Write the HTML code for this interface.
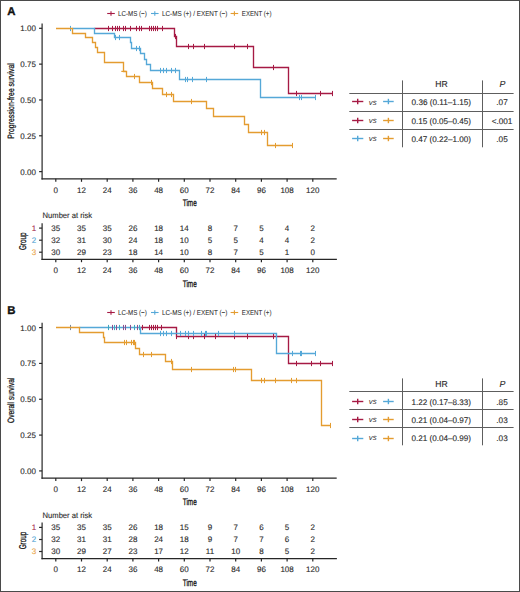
<!DOCTYPE html><html><head><meta charset="utf-8"><style>html,body{margin:0;padding:0;background:#fff;}svg{display:block;text-rendering:geometricPrecision;}</style></head><body>
<svg width="520" height="592" viewBox="0 0 520 592" font-family='"Liberation Sans", sans-serif'>
<rect x="0" y="0" width="520" height="592" fill="#fff"/>
<text x="7.20" y="15.10" font-size="11.4" fill="#111" stroke="#111" stroke-width="0.35" font-weight="bold" >A</text>
<line x1="107.20" y1="13.50" x2="114.80" y2="13.50" stroke="#A61A44" stroke-width="1.1"/>
<line x1="111.00" y1="11.30" x2="111.00" y2="15.70" stroke="#A61A44" stroke-width="1.1"/>
<text x="118.00" y="15.60" font-size="7.2" fill="#2b2b2b" stroke="#2b2b2b" stroke-width="0.05" textLength="28.80" lengthAdjust="spacingAndGlyphs" >LC-MS (−)</text>
<line x1="151.00" y1="13.50" x2="158.60" y2="13.50" stroke="#55A8D8" stroke-width="1.1"/>
<line x1="154.80" y1="11.30" x2="154.80" y2="15.70" stroke="#55A8D8" stroke-width="1.1"/>
<text x="162.00" y="15.60" font-size="7.2" fill="#2b2b2b" stroke="#2b2b2b" stroke-width="0.05" textLength="65.40" lengthAdjust="spacingAndGlyphs" >LC-MS (+) / EXENT (−)</text>
<line x1="230.60" y1="13.50" x2="238.20" y2="13.50" stroke="#E49C30" stroke-width="1.1"/>
<line x1="234.40" y1="11.30" x2="234.40" y2="15.70" stroke="#E49C30" stroke-width="1.1"/>
<text x="241.80" y="15.60" font-size="7.2" fill="#2b2b2b" stroke="#2b2b2b" stroke-width="0.05" textLength="29.70" lengthAdjust="spacingAndGlyphs" >EXENT (+)</text>
<line x1="42.10" y1="23.40" x2="42.10" y2="179.40" stroke="#262626" stroke-width="1.2"/>
<line x1="41.50" y1="178.80" x2="336.70" y2="178.80" stroke="#262626" stroke-width="1.2"/>
<line x1="39.10" y1="28.30" x2="42.10" y2="28.30" stroke="#262626" stroke-width="1.2"/>
<text x="35.90" y="31.20" font-size="8" fill="#2b2b2b" stroke="#2b2b2b" stroke-width="0.12" text-anchor="end" >1.00</text>
<line x1="39.10" y1="64.13" x2="42.10" y2="64.13" stroke="#262626" stroke-width="1.2"/>
<text x="35.90" y="67.03" font-size="8" fill="#2b2b2b" stroke="#2b2b2b" stroke-width="0.12" text-anchor="end" >0.75</text>
<line x1="39.10" y1="99.96" x2="42.10" y2="99.96" stroke="#262626" stroke-width="1.2"/>
<text x="35.90" y="102.86" font-size="8" fill="#2b2b2b" stroke="#2b2b2b" stroke-width="0.12" text-anchor="end" >0.50</text>
<line x1="39.10" y1="135.79" x2="42.10" y2="135.79" stroke="#262626" stroke-width="1.2"/>
<text x="35.90" y="138.69" font-size="8" fill="#2b2b2b" stroke="#2b2b2b" stroke-width="0.12" text-anchor="end" >0.25</text>
<line x1="39.10" y1="171.62" x2="42.10" y2="171.62" stroke="#262626" stroke-width="1.2"/>
<text x="35.90" y="174.52" font-size="8" fill="#2b2b2b" stroke="#2b2b2b" stroke-width="0.12" text-anchor="end" >0.00</text>
<line x1="55.80" y1="178.80" x2="55.80" y2="181.80" stroke="#262626" stroke-width="1.2"/>
<text x="55.80" y="192.80" font-size="8" fill="#2b2b2b" stroke="#2b2b2b" stroke-width="0.12" text-anchor="middle" >0</text>
<line x1="81.50" y1="178.80" x2="81.50" y2="181.80" stroke="#262626" stroke-width="1.2"/>
<text x="81.50" y="192.80" font-size="8" fill="#2b2b2b" stroke="#2b2b2b" stroke-width="0.12" text-anchor="middle" >12</text>
<line x1="107.20" y1="178.80" x2="107.20" y2="181.80" stroke="#262626" stroke-width="1.2"/>
<text x="107.20" y="192.80" font-size="8" fill="#2b2b2b" stroke="#2b2b2b" stroke-width="0.12" text-anchor="middle" >24</text>
<line x1="132.90" y1="178.80" x2="132.90" y2="181.80" stroke="#262626" stroke-width="1.2"/>
<text x="132.90" y="192.80" font-size="8" fill="#2b2b2b" stroke="#2b2b2b" stroke-width="0.12" text-anchor="middle" >36</text>
<line x1="158.60" y1="178.80" x2="158.60" y2="181.80" stroke="#262626" stroke-width="1.2"/>
<text x="158.60" y="192.80" font-size="8" fill="#2b2b2b" stroke="#2b2b2b" stroke-width="0.12" text-anchor="middle" >48</text>
<line x1="184.30" y1="178.80" x2="184.30" y2="181.80" stroke="#262626" stroke-width="1.2"/>
<text x="184.30" y="192.80" font-size="8" fill="#2b2b2b" stroke="#2b2b2b" stroke-width="0.12" text-anchor="middle" >60</text>
<line x1="210.00" y1="178.80" x2="210.00" y2="181.80" stroke="#262626" stroke-width="1.2"/>
<text x="210.00" y="192.80" font-size="8" fill="#2b2b2b" stroke="#2b2b2b" stroke-width="0.12" text-anchor="middle" >72</text>
<line x1="235.70" y1="178.80" x2="235.70" y2="181.80" stroke="#262626" stroke-width="1.2"/>
<text x="235.70" y="192.80" font-size="8" fill="#2b2b2b" stroke="#2b2b2b" stroke-width="0.12" text-anchor="middle" >84</text>
<line x1="261.40" y1="178.80" x2="261.40" y2="181.80" stroke="#262626" stroke-width="1.2"/>
<text x="261.40" y="192.80" font-size="8" fill="#2b2b2b" stroke="#2b2b2b" stroke-width="0.12" text-anchor="middle" >96</text>
<line x1="287.10" y1="178.80" x2="287.10" y2="181.80" stroke="#262626" stroke-width="1.2"/>
<text x="287.10" y="192.80" font-size="8" fill="#2b2b2b" stroke="#2b2b2b" stroke-width="0.12" text-anchor="middle" >108</text>
<line x1="312.80" y1="178.80" x2="312.80" y2="181.80" stroke="#262626" stroke-width="1.2"/>
<text x="312.80" y="192.80" font-size="8" fill="#2b2b2b" stroke="#2b2b2b" stroke-width="0.12" text-anchor="middle" >120</text>
<text x="189.75" y="206.10" font-size="9.6" fill="#111" stroke="#111" stroke-width="0.3" text-anchor="middle" textLength="14.00" lengthAdjust="spacingAndGlyphs" >Time</text>
<text transform="translate(14.0,101.00) rotate(-90)" x="0" y="0" font-size="9.2" fill="#111" stroke="#111" stroke-width="0.25" text-anchor="middle" textLength="75.5" lengthAdjust="spacingAndGlyphs">Progression-free survival</text>
<text x="42.60" y="218.20" font-size="8" fill="#2b2b2b" stroke="#2b2b2b" stroke-width="0.12" textLength="49.40" lengthAdjust="spacingAndGlyphs" >Number at risk</text>
<line x1="42.10" y1="223.30" x2="42.10" y2="259.90" stroke="#262626" stroke-width="1.2"/>
<line x1="41.50" y1="259.30" x2="336.90" y2="259.30" stroke="#262626" stroke-width="1.2"/>
<line x1="39.10" y1="228.10" x2="42.10" y2="228.10" stroke="#262626" stroke-width="1.2"/>
<text x="34.00" y="231.00" font-size="8" fill="#A8304F" stroke="#A8304F" stroke-width="0.12" text-anchor="middle" >1</text>
<text x="55.80" y="231.00" font-size="8" fill="#2b2b2b" stroke="#2b2b2b" stroke-width="0.12" text-anchor="middle" >35</text>
<text x="81.50" y="231.00" font-size="8" fill="#2b2b2b" stroke="#2b2b2b" stroke-width="0.12" text-anchor="middle" >35</text>
<text x="107.20" y="231.00" font-size="8" fill="#2b2b2b" stroke="#2b2b2b" stroke-width="0.12" text-anchor="middle" >35</text>
<text x="132.90" y="231.00" font-size="8" fill="#2b2b2b" stroke="#2b2b2b" stroke-width="0.12" text-anchor="middle" >26</text>
<text x="158.60" y="231.00" font-size="8" fill="#2b2b2b" stroke="#2b2b2b" stroke-width="0.12" text-anchor="middle" >18</text>
<text x="184.30" y="231.00" font-size="8" fill="#2b2b2b" stroke="#2b2b2b" stroke-width="0.12" text-anchor="middle" >14</text>
<text x="210.00" y="231.00" font-size="8" fill="#2b2b2b" stroke="#2b2b2b" stroke-width="0.12" text-anchor="middle" >8</text>
<text x="235.70" y="231.00" font-size="8" fill="#2b2b2b" stroke="#2b2b2b" stroke-width="0.12" text-anchor="middle" >7</text>
<text x="261.40" y="231.00" font-size="8" fill="#2b2b2b" stroke="#2b2b2b" stroke-width="0.12" text-anchor="middle" >5</text>
<text x="287.10" y="231.00" font-size="8" fill="#2b2b2b" stroke="#2b2b2b" stroke-width="0.12" text-anchor="middle" >4</text>
<text x="312.80" y="231.00" font-size="8" fill="#2b2b2b" stroke="#2b2b2b" stroke-width="0.12" text-anchor="middle" >2</text>
<line x1="39.10" y1="240.20" x2="42.10" y2="240.20" stroke="#262626" stroke-width="1.2"/>
<text x="34.00" y="243.10" font-size="8" fill="#55A6D4" stroke="#55A6D4" stroke-width="0.12" text-anchor="middle" >2</text>
<text x="55.80" y="243.10" font-size="8" fill="#2b2b2b" stroke="#2b2b2b" stroke-width="0.12" text-anchor="middle" >32</text>
<text x="81.50" y="243.10" font-size="8" fill="#2b2b2b" stroke="#2b2b2b" stroke-width="0.12" text-anchor="middle" >31</text>
<text x="107.20" y="243.10" font-size="8" fill="#2b2b2b" stroke="#2b2b2b" stroke-width="0.12" text-anchor="middle" >30</text>
<text x="132.90" y="243.10" font-size="8" fill="#2b2b2b" stroke="#2b2b2b" stroke-width="0.12" text-anchor="middle" >24</text>
<text x="158.60" y="243.10" font-size="8" fill="#2b2b2b" stroke="#2b2b2b" stroke-width="0.12" text-anchor="middle" >18</text>
<text x="184.30" y="243.10" font-size="8" fill="#2b2b2b" stroke="#2b2b2b" stroke-width="0.12" text-anchor="middle" >10</text>
<text x="210.00" y="243.10" font-size="8" fill="#2b2b2b" stroke="#2b2b2b" stroke-width="0.12" text-anchor="middle" >5</text>
<text x="235.70" y="243.10" font-size="8" fill="#2b2b2b" stroke="#2b2b2b" stroke-width="0.12" text-anchor="middle" >5</text>
<text x="261.40" y="243.10" font-size="8" fill="#2b2b2b" stroke="#2b2b2b" stroke-width="0.12" text-anchor="middle" >4</text>
<text x="287.10" y="243.10" font-size="8" fill="#2b2b2b" stroke="#2b2b2b" stroke-width="0.12" text-anchor="middle" >4</text>
<text x="312.80" y="243.10" font-size="8" fill="#2b2b2b" stroke="#2b2b2b" stroke-width="0.12" text-anchor="middle" >2</text>
<line x1="39.10" y1="252.20" x2="42.10" y2="252.20" stroke="#262626" stroke-width="1.2"/>
<text x="34.00" y="255.10" font-size="8" fill="#E9A245" stroke="#E9A245" stroke-width="0.12" text-anchor="middle" >3</text>
<text x="55.80" y="255.10" font-size="8" fill="#2b2b2b" stroke="#2b2b2b" stroke-width="0.12" text-anchor="middle" >30</text>
<text x="81.50" y="255.10" font-size="8" fill="#2b2b2b" stroke="#2b2b2b" stroke-width="0.12" text-anchor="middle" >29</text>
<text x="107.20" y="255.10" font-size="8" fill="#2b2b2b" stroke="#2b2b2b" stroke-width="0.12" text-anchor="middle" >23</text>
<text x="132.90" y="255.10" font-size="8" fill="#2b2b2b" stroke="#2b2b2b" stroke-width="0.12" text-anchor="middle" >18</text>
<text x="158.60" y="255.10" font-size="8" fill="#2b2b2b" stroke="#2b2b2b" stroke-width="0.12" text-anchor="middle" >14</text>
<text x="184.30" y="255.10" font-size="8" fill="#2b2b2b" stroke="#2b2b2b" stroke-width="0.12" text-anchor="middle" >10</text>
<text x="210.00" y="255.10" font-size="8" fill="#2b2b2b" stroke="#2b2b2b" stroke-width="0.12" text-anchor="middle" >8</text>
<text x="235.70" y="255.10" font-size="8" fill="#2b2b2b" stroke="#2b2b2b" stroke-width="0.12" text-anchor="middle" >7</text>
<text x="261.40" y="255.10" font-size="8" fill="#2b2b2b" stroke="#2b2b2b" stroke-width="0.12" text-anchor="middle" >5</text>
<text x="287.10" y="255.10" font-size="8" fill="#2b2b2b" stroke="#2b2b2b" stroke-width="0.12" text-anchor="middle" >1</text>
<text x="312.80" y="255.10" font-size="8" fill="#2b2b2b" stroke="#2b2b2b" stroke-width="0.12" text-anchor="middle" >0</text>
<line x1="55.80" y1="259.30" x2="55.80" y2="262.20" stroke="#262626" stroke-width="1.2"/>
<text x="55.80" y="273.00" font-size="8" fill="#2b2b2b" stroke="#2b2b2b" stroke-width="0.12" text-anchor="middle" >0</text>
<line x1="81.50" y1="259.30" x2="81.50" y2="262.20" stroke="#262626" stroke-width="1.2"/>
<text x="81.50" y="273.00" font-size="8" fill="#2b2b2b" stroke="#2b2b2b" stroke-width="0.12" text-anchor="middle" >12</text>
<line x1="107.20" y1="259.30" x2="107.20" y2="262.20" stroke="#262626" stroke-width="1.2"/>
<text x="107.20" y="273.00" font-size="8" fill="#2b2b2b" stroke="#2b2b2b" stroke-width="0.12" text-anchor="middle" >24</text>
<line x1="132.90" y1="259.30" x2="132.90" y2="262.20" stroke="#262626" stroke-width="1.2"/>
<text x="132.90" y="273.00" font-size="8" fill="#2b2b2b" stroke="#2b2b2b" stroke-width="0.12" text-anchor="middle" >36</text>
<line x1="158.60" y1="259.30" x2="158.60" y2="262.20" stroke="#262626" stroke-width="1.2"/>
<text x="158.60" y="273.00" font-size="8" fill="#2b2b2b" stroke="#2b2b2b" stroke-width="0.12" text-anchor="middle" >48</text>
<line x1="184.30" y1="259.30" x2="184.30" y2="262.20" stroke="#262626" stroke-width="1.2"/>
<text x="184.30" y="273.00" font-size="8" fill="#2b2b2b" stroke="#2b2b2b" stroke-width="0.12" text-anchor="middle" >60</text>
<line x1="210.00" y1="259.30" x2="210.00" y2="262.20" stroke="#262626" stroke-width="1.2"/>
<text x="210.00" y="273.00" font-size="8" fill="#2b2b2b" stroke="#2b2b2b" stroke-width="0.12" text-anchor="middle" >72</text>
<line x1="235.70" y1="259.30" x2="235.70" y2="262.20" stroke="#262626" stroke-width="1.2"/>
<text x="235.70" y="273.00" font-size="8" fill="#2b2b2b" stroke="#2b2b2b" stroke-width="0.12" text-anchor="middle" >84</text>
<line x1="261.40" y1="259.30" x2="261.40" y2="262.20" stroke="#262626" stroke-width="1.2"/>
<text x="261.40" y="273.00" font-size="8" fill="#2b2b2b" stroke="#2b2b2b" stroke-width="0.12" text-anchor="middle" >96</text>
<line x1="287.10" y1="259.30" x2="287.10" y2="262.20" stroke="#262626" stroke-width="1.2"/>
<text x="287.10" y="273.00" font-size="8" fill="#2b2b2b" stroke="#2b2b2b" stroke-width="0.12" text-anchor="middle" >108</text>
<line x1="312.80" y1="259.30" x2="312.80" y2="262.20" stroke="#262626" stroke-width="1.2"/>
<text x="312.80" y="273.00" font-size="8" fill="#2b2b2b" stroke="#2b2b2b" stroke-width="0.12" text-anchor="middle" >120</text>
<text x="189.75" y="286.50" font-size="9.6" fill="#111" stroke="#111" stroke-width="0.3" text-anchor="middle" textLength="14.00" lengthAdjust="spacingAndGlyphs" >Time</text>
<text transform="translate(25.6,241.30) rotate(-90)" x="0" y="0" font-size="9.8" fill="#111" stroke="#111" stroke-width="0.3" text-anchor="middle" textLength="17.5" lengthAdjust="spacingAndGlyphs">Group</text>
<text x="7.20" y="314.40" font-size="11.4" fill="#111" stroke="#111" stroke-width="0.35" font-weight="bold" >B</text>
<line x1="107.20" y1="312.50" x2="114.80" y2="312.50" stroke="#A61A44" stroke-width="1.1"/>
<line x1="111.00" y1="310.30" x2="111.00" y2="314.70" stroke="#A61A44" stroke-width="1.1"/>
<text x="118.00" y="314.90" font-size="7.2" fill="#2b2b2b" stroke="#2b2b2b" stroke-width="0.05" textLength="28.80" lengthAdjust="spacingAndGlyphs" >LC-MS (−)</text>
<line x1="151.00" y1="312.50" x2="158.60" y2="312.50" stroke="#55A8D8" stroke-width="1.1"/>
<line x1="154.80" y1="310.30" x2="154.80" y2="314.70" stroke="#55A8D8" stroke-width="1.1"/>
<text x="162.00" y="314.90" font-size="7.2" fill="#2b2b2b" stroke="#2b2b2b" stroke-width="0.05" textLength="65.40" lengthAdjust="spacingAndGlyphs" >LC-MS (+) / EXENT (−)</text>
<line x1="230.60" y1="312.50" x2="238.20" y2="312.50" stroke="#E49C30" stroke-width="1.1"/>
<line x1="234.40" y1="310.30" x2="234.40" y2="314.70" stroke="#E49C30" stroke-width="1.1"/>
<text x="241.80" y="314.90" font-size="7.2" fill="#2b2b2b" stroke="#2b2b2b" stroke-width="0.05" textLength="29.70" lengthAdjust="spacingAndGlyphs" >EXENT (+)</text>
<line x1="42.10" y1="322.70" x2="42.10" y2="478.70" stroke="#262626" stroke-width="1.2"/>
<line x1="41.50" y1="478.10" x2="336.70" y2="478.10" stroke="#262626" stroke-width="1.2"/>
<line x1="39.10" y1="327.60" x2="42.10" y2="327.60" stroke="#262626" stroke-width="1.2"/>
<text x="35.90" y="330.50" font-size="8" fill="#2b2b2b" stroke="#2b2b2b" stroke-width="0.12" text-anchor="end" >1.00</text>
<line x1="39.10" y1="363.43" x2="42.10" y2="363.43" stroke="#262626" stroke-width="1.2"/>
<text x="35.90" y="366.33" font-size="8" fill="#2b2b2b" stroke="#2b2b2b" stroke-width="0.12" text-anchor="end" >0.75</text>
<line x1="39.10" y1="399.26" x2="42.10" y2="399.26" stroke="#262626" stroke-width="1.2"/>
<text x="35.90" y="402.16" font-size="8" fill="#2b2b2b" stroke="#2b2b2b" stroke-width="0.12" text-anchor="end" >0.50</text>
<line x1="39.10" y1="435.09" x2="42.10" y2="435.09" stroke="#262626" stroke-width="1.2"/>
<text x="35.90" y="437.99" font-size="8" fill="#2b2b2b" stroke="#2b2b2b" stroke-width="0.12" text-anchor="end" >0.25</text>
<line x1="39.10" y1="470.92" x2="42.10" y2="470.92" stroke="#262626" stroke-width="1.2"/>
<text x="35.90" y="473.82" font-size="8" fill="#2b2b2b" stroke="#2b2b2b" stroke-width="0.12" text-anchor="end" >0.00</text>
<line x1="55.80" y1="478.10" x2="55.80" y2="481.10" stroke="#262626" stroke-width="1.2"/>
<text x="55.80" y="492.10" font-size="8" fill="#2b2b2b" stroke="#2b2b2b" stroke-width="0.12" text-anchor="middle" >0</text>
<line x1="81.50" y1="478.10" x2="81.50" y2="481.10" stroke="#262626" stroke-width="1.2"/>
<text x="81.50" y="492.10" font-size="8" fill="#2b2b2b" stroke="#2b2b2b" stroke-width="0.12" text-anchor="middle" >12</text>
<line x1="107.20" y1="478.10" x2="107.20" y2="481.10" stroke="#262626" stroke-width="1.2"/>
<text x="107.20" y="492.10" font-size="8" fill="#2b2b2b" stroke="#2b2b2b" stroke-width="0.12" text-anchor="middle" >24</text>
<line x1="132.90" y1="478.10" x2="132.90" y2="481.10" stroke="#262626" stroke-width="1.2"/>
<text x="132.90" y="492.10" font-size="8" fill="#2b2b2b" stroke="#2b2b2b" stroke-width="0.12" text-anchor="middle" >36</text>
<line x1="158.60" y1="478.10" x2="158.60" y2="481.10" stroke="#262626" stroke-width="1.2"/>
<text x="158.60" y="492.10" font-size="8" fill="#2b2b2b" stroke="#2b2b2b" stroke-width="0.12" text-anchor="middle" >48</text>
<line x1="184.30" y1="478.10" x2="184.30" y2="481.10" stroke="#262626" stroke-width="1.2"/>
<text x="184.30" y="492.10" font-size="8" fill="#2b2b2b" stroke="#2b2b2b" stroke-width="0.12" text-anchor="middle" >60</text>
<line x1="210.00" y1="478.10" x2="210.00" y2="481.10" stroke="#262626" stroke-width="1.2"/>
<text x="210.00" y="492.10" font-size="8" fill="#2b2b2b" stroke="#2b2b2b" stroke-width="0.12" text-anchor="middle" >72</text>
<line x1="235.70" y1="478.10" x2="235.70" y2="481.10" stroke="#262626" stroke-width="1.2"/>
<text x="235.70" y="492.10" font-size="8" fill="#2b2b2b" stroke="#2b2b2b" stroke-width="0.12" text-anchor="middle" >84</text>
<line x1="261.40" y1="478.10" x2="261.40" y2="481.10" stroke="#262626" stroke-width="1.2"/>
<text x="261.40" y="492.10" font-size="8" fill="#2b2b2b" stroke="#2b2b2b" stroke-width="0.12" text-anchor="middle" >96</text>
<line x1="287.10" y1="478.10" x2="287.10" y2="481.10" stroke="#262626" stroke-width="1.2"/>
<text x="287.10" y="492.10" font-size="8" fill="#2b2b2b" stroke="#2b2b2b" stroke-width="0.12" text-anchor="middle" >108</text>
<line x1="312.80" y1="478.10" x2="312.80" y2="481.10" stroke="#262626" stroke-width="1.2"/>
<text x="312.80" y="492.10" font-size="8" fill="#2b2b2b" stroke="#2b2b2b" stroke-width="0.12" text-anchor="middle" >120</text>
<text x="189.75" y="505.40" font-size="9.6" fill="#111" stroke="#111" stroke-width="0.3" text-anchor="middle" textLength="14.00" lengthAdjust="spacingAndGlyphs" >Time</text>
<text transform="translate(14.0,400.30) rotate(-90)" x="0" y="0" font-size="9.2" fill="#111" stroke="#111" stroke-width="0.25" text-anchor="middle" textLength="45.5" lengthAdjust="spacingAndGlyphs">Overall survival</text>
<text x="42.60" y="517.50" font-size="8" fill="#2b2b2b" stroke="#2b2b2b" stroke-width="0.12" textLength="49.40" lengthAdjust="spacingAndGlyphs" >Number at risk</text>
<line x1="42.10" y1="522.60" x2="42.10" y2="559.20" stroke="#262626" stroke-width="1.2"/>
<line x1="41.50" y1="558.60" x2="336.90" y2="558.60" stroke="#262626" stroke-width="1.2"/>
<line x1="39.10" y1="527.40" x2="42.10" y2="527.40" stroke="#262626" stroke-width="1.2"/>
<text x="34.00" y="530.30" font-size="8" fill="#A8304F" stroke="#A8304F" stroke-width="0.12" text-anchor="middle" >1</text>
<text x="55.80" y="530.30" font-size="8" fill="#2b2b2b" stroke="#2b2b2b" stroke-width="0.12" text-anchor="middle" >35</text>
<text x="81.50" y="530.30" font-size="8" fill="#2b2b2b" stroke="#2b2b2b" stroke-width="0.12" text-anchor="middle" >35</text>
<text x="107.20" y="530.30" font-size="8" fill="#2b2b2b" stroke="#2b2b2b" stroke-width="0.12" text-anchor="middle" >35</text>
<text x="132.90" y="530.30" font-size="8" fill="#2b2b2b" stroke="#2b2b2b" stroke-width="0.12" text-anchor="middle" >26</text>
<text x="158.60" y="530.30" font-size="8" fill="#2b2b2b" stroke="#2b2b2b" stroke-width="0.12" text-anchor="middle" >18</text>
<text x="184.30" y="530.30" font-size="8" fill="#2b2b2b" stroke="#2b2b2b" stroke-width="0.12" text-anchor="middle" >15</text>
<text x="210.00" y="530.30" font-size="8" fill="#2b2b2b" stroke="#2b2b2b" stroke-width="0.12" text-anchor="middle" >9</text>
<text x="235.70" y="530.30" font-size="8" fill="#2b2b2b" stroke="#2b2b2b" stroke-width="0.12" text-anchor="middle" >7</text>
<text x="261.40" y="530.30" font-size="8" fill="#2b2b2b" stroke="#2b2b2b" stroke-width="0.12" text-anchor="middle" >6</text>
<text x="287.10" y="530.30" font-size="8" fill="#2b2b2b" stroke="#2b2b2b" stroke-width="0.12" text-anchor="middle" >5</text>
<text x="312.80" y="530.30" font-size="8" fill="#2b2b2b" stroke="#2b2b2b" stroke-width="0.12" text-anchor="middle" >2</text>
<line x1="39.10" y1="539.50" x2="42.10" y2="539.50" stroke="#262626" stroke-width="1.2"/>
<text x="34.00" y="542.40" font-size="8" fill="#55A6D4" stroke="#55A6D4" stroke-width="0.12" text-anchor="middle" >2</text>
<text x="55.80" y="542.40" font-size="8" fill="#2b2b2b" stroke="#2b2b2b" stroke-width="0.12" text-anchor="middle" >32</text>
<text x="81.50" y="542.40" font-size="8" fill="#2b2b2b" stroke="#2b2b2b" stroke-width="0.12" text-anchor="middle" >31</text>
<text x="107.20" y="542.40" font-size="8" fill="#2b2b2b" stroke="#2b2b2b" stroke-width="0.12" text-anchor="middle" >31</text>
<text x="132.90" y="542.40" font-size="8" fill="#2b2b2b" stroke="#2b2b2b" stroke-width="0.12" text-anchor="middle" >28</text>
<text x="158.60" y="542.40" font-size="8" fill="#2b2b2b" stroke="#2b2b2b" stroke-width="0.12" text-anchor="middle" >24</text>
<text x="184.30" y="542.40" font-size="8" fill="#2b2b2b" stroke="#2b2b2b" stroke-width="0.12" text-anchor="middle" >18</text>
<text x="210.00" y="542.40" font-size="8" fill="#2b2b2b" stroke="#2b2b2b" stroke-width="0.12" text-anchor="middle" >9</text>
<text x="235.70" y="542.40" font-size="8" fill="#2b2b2b" stroke="#2b2b2b" stroke-width="0.12" text-anchor="middle" >7</text>
<text x="261.40" y="542.40" font-size="8" fill="#2b2b2b" stroke="#2b2b2b" stroke-width="0.12" text-anchor="middle" >7</text>
<text x="287.10" y="542.40" font-size="8" fill="#2b2b2b" stroke="#2b2b2b" stroke-width="0.12" text-anchor="middle" >6</text>
<text x="312.80" y="542.40" font-size="8" fill="#2b2b2b" stroke="#2b2b2b" stroke-width="0.12" text-anchor="middle" >2</text>
<line x1="39.10" y1="551.50" x2="42.10" y2="551.50" stroke="#262626" stroke-width="1.2"/>
<text x="34.00" y="554.40" font-size="8" fill="#E9A245" stroke="#E9A245" stroke-width="0.12" text-anchor="middle" >3</text>
<text x="55.80" y="554.40" font-size="8" fill="#2b2b2b" stroke="#2b2b2b" stroke-width="0.12" text-anchor="middle" >30</text>
<text x="81.50" y="554.40" font-size="8" fill="#2b2b2b" stroke="#2b2b2b" stroke-width="0.12" text-anchor="middle" >29</text>
<text x="107.20" y="554.40" font-size="8" fill="#2b2b2b" stroke="#2b2b2b" stroke-width="0.12" text-anchor="middle" >27</text>
<text x="132.90" y="554.40" font-size="8" fill="#2b2b2b" stroke="#2b2b2b" stroke-width="0.12" text-anchor="middle" >23</text>
<text x="158.60" y="554.40" font-size="8" fill="#2b2b2b" stroke="#2b2b2b" stroke-width="0.12" text-anchor="middle" >17</text>
<text x="184.30" y="554.40" font-size="8" fill="#2b2b2b" stroke="#2b2b2b" stroke-width="0.12" text-anchor="middle" >12</text>
<text x="210.00" y="554.40" font-size="8" fill="#2b2b2b" stroke="#2b2b2b" stroke-width="0.12" text-anchor="middle" >11</text>
<text x="235.70" y="554.40" font-size="8" fill="#2b2b2b" stroke="#2b2b2b" stroke-width="0.12" text-anchor="middle" >10</text>
<text x="261.40" y="554.40" font-size="8" fill="#2b2b2b" stroke="#2b2b2b" stroke-width="0.12" text-anchor="middle" >8</text>
<text x="287.10" y="554.40" font-size="8" fill="#2b2b2b" stroke="#2b2b2b" stroke-width="0.12" text-anchor="middle" >5</text>
<text x="312.80" y="554.40" font-size="8" fill="#2b2b2b" stroke="#2b2b2b" stroke-width="0.12" text-anchor="middle" >2</text>
<line x1="55.80" y1="558.60" x2="55.80" y2="561.50" stroke="#262626" stroke-width="1.2"/>
<text x="55.80" y="572.30" font-size="8" fill="#2b2b2b" stroke="#2b2b2b" stroke-width="0.12" text-anchor="middle" >0</text>
<line x1="81.50" y1="558.60" x2="81.50" y2="561.50" stroke="#262626" stroke-width="1.2"/>
<text x="81.50" y="572.30" font-size="8" fill="#2b2b2b" stroke="#2b2b2b" stroke-width="0.12" text-anchor="middle" >12</text>
<line x1="107.20" y1="558.60" x2="107.20" y2="561.50" stroke="#262626" stroke-width="1.2"/>
<text x="107.20" y="572.30" font-size="8" fill="#2b2b2b" stroke="#2b2b2b" stroke-width="0.12" text-anchor="middle" >24</text>
<line x1="132.90" y1="558.60" x2="132.90" y2="561.50" stroke="#262626" stroke-width="1.2"/>
<text x="132.90" y="572.30" font-size="8" fill="#2b2b2b" stroke="#2b2b2b" stroke-width="0.12" text-anchor="middle" >36</text>
<line x1="158.60" y1="558.60" x2="158.60" y2="561.50" stroke="#262626" stroke-width="1.2"/>
<text x="158.60" y="572.30" font-size="8" fill="#2b2b2b" stroke="#2b2b2b" stroke-width="0.12" text-anchor="middle" >48</text>
<line x1="184.30" y1="558.60" x2="184.30" y2="561.50" stroke="#262626" stroke-width="1.2"/>
<text x="184.30" y="572.30" font-size="8" fill="#2b2b2b" stroke="#2b2b2b" stroke-width="0.12" text-anchor="middle" >60</text>
<line x1="210.00" y1="558.60" x2="210.00" y2="561.50" stroke="#262626" stroke-width="1.2"/>
<text x="210.00" y="572.30" font-size="8" fill="#2b2b2b" stroke="#2b2b2b" stroke-width="0.12" text-anchor="middle" >72</text>
<line x1="235.70" y1="558.60" x2="235.70" y2="561.50" stroke="#262626" stroke-width="1.2"/>
<text x="235.70" y="572.30" font-size="8" fill="#2b2b2b" stroke="#2b2b2b" stroke-width="0.12" text-anchor="middle" >84</text>
<line x1="261.40" y1="558.60" x2="261.40" y2="561.50" stroke="#262626" stroke-width="1.2"/>
<text x="261.40" y="572.30" font-size="8" fill="#2b2b2b" stroke="#2b2b2b" stroke-width="0.12" text-anchor="middle" >96</text>
<line x1="287.10" y1="558.60" x2="287.10" y2="561.50" stroke="#262626" stroke-width="1.2"/>
<text x="287.10" y="572.30" font-size="8" fill="#2b2b2b" stroke="#2b2b2b" stroke-width="0.12" text-anchor="middle" >108</text>
<line x1="312.80" y1="558.60" x2="312.80" y2="561.50" stroke="#262626" stroke-width="1.2"/>
<text x="312.80" y="572.30" font-size="8" fill="#2b2b2b" stroke="#2b2b2b" stroke-width="0.12" text-anchor="middle" >120</text>
<text x="189.75" y="585.80" font-size="9.6" fill="#111" stroke="#111" stroke-width="0.3" text-anchor="middle" textLength="14.00" lengthAdjust="spacingAndGlyphs" >Time</text>
<text transform="translate(25.6,540.60) rotate(-90)" x="0" y="0" font-size="9.8" fill="#111" stroke="#111" stroke-width="0.3" text-anchor="middle" textLength="17.5" lengthAdjust="spacingAndGlyphs">Group</text>
<path d="M94.50,28.50 H174.50 V36.50 H176.50 V46.50 H253.50 V67.50 H288.50 V93.50 H332.20" fill="none" stroke="#A61A44" stroke-width="1.35" stroke-linejoin="miter" stroke-linecap="butt"/>
<line x1="108.50" y1="25.90" x2="108.50" y2="31.10" stroke="#A61A44" stroke-width="1.05"/>
<line x1="112.50" y1="25.90" x2="112.50" y2="31.10" stroke="#A61A44" stroke-width="1.05"/>
<line x1="115.50" y1="25.90" x2="115.50" y2="31.10" stroke="#A61A44" stroke-width="1.05"/>
<line x1="117.50" y1="25.90" x2="117.50" y2="31.10" stroke="#A61A44" stroke-width="1.05"/>
<line x1="119.50" y1="25.90" x2="119.50" y2="31.10" stroke="#A61A44" stroke-width="1.05"/>
<line x1="123.50" y1="25.90" x2="123.50" y2="31.10" stroke="#A61A44" stroke-width="1.05"/>
<line x1="125.50" y1="25.90" x2="125.50" y2="31.10" stroke="#A61A44" stroke-width="1.05"/>
<line x1="130.50" y1="25.90" x2="130.50" y2="31.10" stroke="#A61A44" stroke-width="1.05"/>
<line x1="136.50" y1="25.90" x2="136.50" y2="31.10" stroke="#A61A44" stroke-width="1.05"/>
<line x1="139.50" y1="25.90" x2="139.50" y2="31.10" stroke="#A61A44" stroke-width="1.05"/>
<line x1="141.50" y1="25.90" x2="141.50" y2="31.10" stroke="#A61A44" stroke-width="1.05"/>
<line x1="149.50" y1="25.90" x2="149.50" y2="31.10" stroke="#A61A44" stroke-width="1.05"/>
<line x1="151.50" y1="25.90" x2="151.50" y2="31.10" stroke="#A61A44" stroke-width="1.05"/>
<line x1="153.50" y1="25.90" x2="153.50" y2="31.10" stroke="#A61A44" stroke-width="1.05"/>
<line x1="155.50" y1="25.90" x2="155.50" y2="31.10" stroke="#A61A44" stroke-width="1.05"/>
<line x1="157.50" y1="25.90" x2="157.50" y2="31.10" stroke="#A61A44" stroke-width="1.05"/>
<line x1="162.50" y1="25.90" x2="162.50" y2="31.10" stroke="#A61A44" stroke-width="1.05"/>
<line x1="175.50" y1="33.90" x2="175.50" y2="39.10" stroke="#A61A44" stroke-width="1.05"/>
<line x1="188.50" y1="43.90" x2="188.50" y2="49.10" stroke="#A61A44" stroke-width="1.05"/>
<line x1="193.50" y1="43.90" x2="193.50" y2="49.10" stroke="#A61A44" stroke-width="1.05"/>
<line x1="204.50" y1="43.90" x2="204.50" y2="49.10" stroke="#A61A44" stroke-width="1.05"/>
<line x1="234.50" y1="43.90" x2="234.50" y2="49.10" stroke="#A61A44" stroke-width="1.05"/>
<line x1="247.50" y1="43.90" x2="247.50" y2="49.10" stroke="#A61A44" stroke-width="1.05"/>
<line x1="273.50" y1="64.90" x2="273.50" y2="70.10" stroke="#A61A44" stroke-width="1.05"/>
<line x1="296.50" y1="90.90" x2="296.50" y2="96.10" stroke="#A61A44" stroke-width="1.05"/>
<line x1="320.50" y1="90.90" x2="320.50" y2="96.10" stroke="#A61A44" stroke-width="1.05"/>
<line x1="332.50" y1="90.90" x2="332.50" y2="96.10" stroke="#A61A44" stroke-width="1.05"/>
<path d="M72.50,28.50 H94.50 V33.50 H114.50 V37.50 H130.50 V42.50 H131.50 V48.50 H140.50 V53.50 H144.50 V59.50 H146.50 V64.50 H150.50 V70.50 H179.50 V79.50 H260.50 V97.50 H315.00" fill="none" stroke="#55A8D8" stroke-width="1.35" stroke-linejoin="miter" stroke-linecap="butt"/>
<line x1="70.50" y1="25.90" x2="70.50" y2="31.10" stroke="#55A8D8" stroke-width="1.05"/>
<line x1="115.50" y1="34.90" x2="115.50" y2="40.10" stroke="#55A8D8" stroke-width="1.05"/>
<line x1="119.50" y1="34.90" x2="119.50" y2="40.10" stroke="#55A8D8" stroke-width="1.05"/>
<line x1="136.50" y1="45.90" x2="136.50" y2="51.10" stroke="#55A8D8" stroke-width="1.05"/>
<line x1="139.50" y1="45.90" x2="139.50" y2="51.10" stroke="#55A8D8" stroke-width="1.05"/>
<line x1="160.50" y1="67.90" x2="160.50" y2="73.10" stroke="#55A8D8" stroke-width="1.05"/>
<line x1="163.50" y1="67.90" x2="163.50" y2="73.10" stroke="#55A8D8" stroke-width="1.05"/>
<line x1="166.50" y1="67.90" x2="166.50" y2="73.10" stroke="#55A8D8" stroke-width="1.05"/>
<line x1="171.50" y1="67.90" x2="171.50" y2="73.10" stroke="#55A8D8" stroke-width="1.05"/>
<line x1="175.50" y1="67.90" x2="175.50" y2="73.10" stroke="#55A8D8" stroke-width="1.05"/>
<line x1="185.50" y1="76.90" x2="185.50" y2="82.10" stroke="#55A8D8" stroke-width="1.05"/>
<line x1="187.50" y1="76.90" x2="187.50" y2="82.10" stroke="#55A8D8" stroke-width="1.05"/>
<line x1="192.50" y1="76.90" x2="192.50" y2="82.10" stroke="#55A8D8" stroke-width="1.05"/>
<line x1="206.50" y1="76.90" x2="206.50" y2="82.10" stroke="#55A8D8" stroke-width="1.05"/>
<line x1="299.50" y1="94.90" x2="299.50" y2="100.10" stroke="#55A8D8" stroke-width="1.05"/>
<line x1="301.50" y1="94.90" x2="301.50" y2="100.10" stroke="#55A8D8" stroke-width="1.05"/>
<line x1="315.50" y1="94.90" x2="315.50" y2="100.10" stroke="#55A8D8" stroke-width="1.05"/>
<path d="M56.00,28.50 H72.50 V33.50 H85.50 V37.50 H92.50 V42.50 H95.50 V47.50 H97.50 V52.50 H104.50 V62.50 H123.50 V71.50 H126.50 V76.50 H139.50 V82.50 H152.50 V88.50 H162.50 V94.50 H173.50 V101.50 H206.50 V108.50 H213.50 V116.50 H244.50 V124.50 H248.50 V132.50 H267.50 V145.50 H292.80" fill="none" stroke="#E49C30" stroke-width="1.35" stroke-linejoin="miter" stroke-linecap="butt"/>
<line x1="121.30" y1="71.40" x2="125.80" y2="71.40" stroke="#E49C30" stroke-width="1.2"/>
<line x1="134.50" y1="73.90" x2="134.50" y2="79.10" stroke="#E49C30" stroke-width="1.05"/>
<line x1="151.50" y1="79.90" x2="151.50" y2="85.10" stroke="#E49C30" stroke-width="1.05"/>
<line x1="166.50" y1="91.90" x2="166.50" y2="97.10" stroke="#E49C30" stroke-width="1.05"/>
<line x1="171.50" y1="91.90" x2="171.50" y2="97.10" stroke="#E49C30" stroke-width="1.05"/>
<line x1="191.50" y1="98.90" x2="191.50" y2="104.10" stroke="#E49C30" stroke-width="1.05"/>
<line x1="261.50" y1="129.90" x2="261.50" y2="135.10" stroke="#E49C30" stroke-width="1.05"/>
<line x1="264.50" y1="129.90" x2="264.50" y2="135.10" stroke="#E49C30" stroke-width="1.05"/>
<line x1="275.50" y1="142.90" x2="275.50" y2="148.10" stroke="#E49C30" stroke-width="1.05"/>
<line x1="292.50" y1="142.90" x2="292.50" y2="148.10" stroke="#E49C30" stroke-width="1.05"/>
<path d="M140.50,327.50 H176.50 V336.50 H288.50 V363.50 H332.30" fill="none" stroke="#A61A44" stroke-width="1.35" stroke-linejoin="miter" stroke-linecap="butt"/>
<path d="M79.50,327.50 H140.50 V333.50 H276.50 V353.50 H315.40" fill="none" stroke="#55A8D8" stroke-width="1.35" stroke-linejoin="miter" stroke-linecap="butt"/>
<line x1="112.50" y1="324.90" x2="112.50" y2="330.10" stroke="#8C4F8F" stroke-width="1.05"/>
<line x1="116.50" y1="324.90" x2="116.50" y2="330.10" stroke="#8C4F8F" stroke-width="1.05"/>
<line x1="123.50" y1="324.90" x2="123.50" y2="330.10" stroke="#8C4F8F" stroke-width="1.05"/>
<line x1="125.50" y1="324.90" x2="125.50" y2="330.10" stroke="#8C4F8F" stroke-width="1.05"/>
<line x1="130.50" y1="324.90" x2="130.50" y2="330.10" stroke="#8C4F8F" stroke-width="1.05"/>
<line x1="137.50" y1="324.90" x2="137.50" y2="330.10" stroke="#8C4F8F" stroke-width="1.05"/>
<line x1="108.50" y1="324.90" x2="108.50" y2="330.10" stroke="#3EA7BE" stroke-width="1.05"/>
<line x1="114.50" y1="324.90" x2="114.50" y2="330.10" stroke="#3EA7BE" stroke-width="1.05"/>
<line x1="119.50" y1="324.90" x2="119.50" y2="330.10" stroke="#3EA7BE" stroke-width="1.05"/>
<line x1="134.50" y1="324.90" x2="134.50" y2="330.10" stroke="#3EA7BE" stroke-width="1.05"/>
<line x1="139.50" y1="324.90" x2="139.50" y2="330.10" stroke="#3EA7BE" stroke-width="1.05"/>
<line x1="142.50" y1="324.90" x2="142.50" y2="330.10" stroke="#A61A44" stroke-width="1.05"/>
<line x1="149.50" y1="324.90" x2="149.50" y2="330.10" stroke="#A61A44" stroke-width="1.05"/>
<line x1="151.50" y1="324.90" x2="151.50" y2="330.10" stroke="#A61A44" stroke-width="1.05"/>
<line x1="153.50" y1="324.90" x2="153.50" y2="330.10" stroke="#A61A44" stroke-width="1.05"/>
<line x1="155.50" y1="324.90" x2="155.50" y2="330.10" stroke="#A61A44" stroke-width="1.05"/>
<line x1="157.50" y1="324.90" x2="157.50" y2="330.10" stroke="#A61A44" stroke-width="1.05"/>
<line x1="161.50" y1="324.90" x2="161.50" y2="330.10" stroke="#A61A44" stroke-width="1.05"/>
<line x1="70.50" y1="324.90" x2="70.50" y2="330.10" stroke="#7a8a99" stroke-width="1.05"/>
<line x1="176.50" y1="333.90" x2="176.50" y2="339.10" stroke="#A61A44" stroke-width="1.05"/>
<line x1="188.50" y1="333.90" x2="188.50" y2="339.10" stroke="#A61A44" stroke-width="1.05"/>
<line x1="193.50" y1="333.90" x2="193.50" y2="339.10" stroke="#A61A44" stroke-width="1.05"/>
<line x1="204.50" y1="333.90" x2="204.50" y2="339.10" stroke="#A61A44" stroke-width="1.05"/>
<line x1="215.50" y1="333.90" x2="215.50" y2="339.10" stroke="#A61A44" stroke-width="1.05"/>
<line x1="234.50" y1="333.90" x2="234.50" y2="339.10" stroke="#A61A44" stroke-width="1.05"/>
<line x1="247.50" y1="333.90" x2="247.50" y2="339.10" stroke="#A61A44" stroke-width="1.05"/>
<line x1="273.50" y1="333.90" x2="273.50" y2="339.10" stroke="#A61A44" stroke-width="1.05"/>
<line x1="296.50" y1="360.90" x2="296.50" y2="366.10" stroke="#A61A44" stroke-width="1.05"/>
<line x1="311.50" y1="360.90" x2="311.50" y2="366.10" stroke="#A61A44" stroke-width="1.05"/>
<line x1="320.50" y1="360.90" x2="320.50" y2="366.10" stroke="#A61A44" stroke-width="1.05"/>
<line x1="332.50" y1="360.90" x2="332.50" y2="366.10" stroke="#A61A44" stroke-width="1.05"/>
<line x1="160.50" y1="330.90" x2="160.50" y2="336.10" stroke="#55A8D8" stroke-width="1.05"/>
<line x1="163.50" y1="330.90" x2="163.50" y2="336.10" stroke="#55A8D8" stroke-width="1.05"/>
<line x1="166.50" y1="330.90" x2="166.50" y2="336.10" stroke="#55A8D8" stroke-width="1.05"/>
<line x1="171.50" y1="330.90" x2="171.50" y2="336.10" stroke="#55A8D8" stroke-width="1.05"/>
<line x1="180.50" y1="330.90" x2="180.50" y2="336.10" stroke="#55A8D8" stroke-width="1.05"/>
<line x1="185.50" y1="330.90" x2="185.50" y2="336.10" stroke="#55A8D8" stroke-width="1.05"/>
<line x1="188.50" y1="330.90" x2="188.50" y2="336.10" stroke="#55A8D8" stroke-width="1.05"/>
<line x1="193.50" y1="330.90" x2="193.50" y2="336.10" stroke="#55A8D8" stroke-width="1.05"/>
<line x1="201.50" y1="330.90" x2="201.50" y2="336.10" stroke="#55A8D8" stroke-width="1.05"/>
<line x1="205.50" y1="330.90" x2="205.50" y2="336.10" stroke="#55A8D8" stroke-width="1.05"/>
<line x1="206.50" y1="330.90" x2="206.50" y2="336.10" stroke="#55A8D8" stroke-width="1.05"/>
<line x1="218.50" y1="330.90" x2="218.50" y2="336.10" stroke="#55A8D8" stroke-width="1.05"/>
<line x1="234.50" y1="330.90" x2="234.50" y2="336.10" stroke="#55A8D8" stroke-width="1.05"/>
<line x1="292.50" y1="350.90" x2="292.50" y2="356.10" stroke="#55A8D8" stroke-width="1.05"/>
<line x1="300.50" y1="350.90" x2="300.50" y2="356.10" stroke="#55A8D8" stroke-width="1.05"/>
<line x1="301.50" y1="350.90" x2="301.50" y2="356.10" stroke="#55A8D8" stroke-width="1.05"/>
<line x1="315.50" y1="350.90" x2="315.50" y2="356.10" stroke="#55A8D8" stroke-width="1.05"/>
<path d="M56.00,327.50 H79.50 V332.50 H103.50 V337.50 H104.50 V342.50 H135.50 V348.50 H139.50 V354.50 H165.50 V361.50 H172.50 V369.50 H251.50 V380.50 H321.50 V425.50 H330.80" fill="none" stroke="#E49C30" stroke-width="1.35" stroke-linejoin="miter" stroke-linecap="butt"/>
<line x1="124.50" y1="339.90" x2="124.50" y2="345.10" stroke="#E49C30" stroke-width="1.05"/>
<line x1="126.50" y1="339.90" x2="126.50" y2="345.10" stroke="#E49C30" stroke-width="1.05"/>
<line x1="131.50" y1="339.90" x2="131.50" y2="345.10" stroke="#E49C30" stroke-width="1.05"/>
<line x1="133.50" y1="339.90" x2="133.50" y2="345.10" stroke="#E49C30" stroke-width="1.05"/>
<line x1="134.50" y1="339.90" x2="134.50" y2="345.10" stroke="#E49C30" stroke-width="1.05"/>
<line x1="143.50" y1="351.90" x2="143.50" y2="357.10" stroke="#E49C30" stroke-width="1.05"/>
<line x1="151.50" y1="351.90" x2="151.50" y2="357.10" stroke="#E49C30" stroke-width="1.05"/>
<line x1="171.50" y1="358.90" x2="171.50" y2="364.10" stroke="#E49C30" stroke-width="1.05"/>
<line x1="191.50" y1="366.90" x2="191.50" y2="372.10" stroke="#E49C30" stroke-width="1.05"/>
<line x1="233.50" y1="366.90" x2="233.50" y2="372.10" stroke="#E49C30" stroke-width="1.05"/>
<line x1="235.50" y1="366.90" x2="235.50" y2="372.10" stroke="#E49C30" stroke-width="1.05"/>
<line x1="261.50" y1="377.90" x2="261.50" y2="383.10" stroke="#E49C30" stroke-width="1.05"/>
<line x1="264.50" y1="377.90" x2="264.50" y2="383.10" stroke="#E49C30" stroke-width="1.05"/>
<line x1="275.50" y1="377.90" x2="275.50" y2="383.10" stroke="#E49C30" stroke-width="1.05"/>
<line x1="291.50" y1="377.90" x2="291.50" y2="383.10" stroke="#E49C30" stroke-width="1.05"/>
<line x1="296.50" y1="377.90" x2="296.50" y2="383.10" stroke="#E49C30" stroke-width="1.05"/>
<line x1="330.50" y1="422.90" x2="330.50" y2="428.10" stroke="#E49C30" stroke-width="1.05"/>
<line x1="349.30" y1="93.50" x2="513.60" y2="93.50" stroke="#5e5e5e" stroke-width="1.0"/>
<line x1="349.30" y1="111.50" x2="513.60" y2="111.50" stroke="#5e5e5e" stroke-width="1.0"/>
<line x1="349.30" y1="129.50" x2="513.60" y2="129.50" stroke="#5e5e5e" stroke-width="1.0"/>
<line x1="402.50" y1="80.40" x2="402.50" y2="147.30" stroke="#5e5e5e" stroke-width="1.0"/>
<line x1="482.50" y1="80.40" x2="482.50" y2="147.30" stroke="#5e5e5e" stroke-width="1.0"/>
<text x="441.40" y="87.40" font-size="8.6" fill="#2b2b2b" stroke="#2b2b2b" stroke-width="0.12" text-anchor="middle" >HR</text>
<text x="502.40" y="87.40" font-size="8.8" fill="#2b2b2b" stroke="#2b2b2b" stroke-width="0.12" text-anchor="middle" font-style="italic" >P</text>
<line x1="352.10" y1="101.50" x2="363.30" y2="101.50" stroke="#A61A44" stroke-width="1.4"/>
<line x1="357.70" y1="98.80" x2="357.70" y2="104.20" stroke="#A61A44" stroke-width="1.4"/>
<text x="368.80" y="104.70" font-size="7.8" fill="#3a3a3a" font-style="italic" >vs</text>
<line x1="383.10" y1="101.50" x2="393.70" y2="101.50" stroke="#55A8D8" stroke-width="1.4"/>
<line x1="388.40" y1="98.80" x2="388.40" y2="104.20" stroke="#55A8D8" stroke-width="1.4"/>
<text x="441.30" y="105.40" font-size="8.2" fill="#2b2b2b" stroke="#2b2b2b" stroke-width="0.12" text-anchor="middle" textLength="59.50" lengthAdjust="spacingAndGlyphs" >0.36 (0.11–1.15)</text>
<text x="502.00" y="105.40" font-size="8.2" fill="#2b2b2b" stroke="#2b2b2b" stroke-width="0.12" text-anchor="middle" >.07</text>
<line x1="352.10" y1="120.50" x2="363.30" y2="120.50" stroke="#A61A44" stroke-width="1.4"/>
<line x1="357.70" y1="117.80" x2="357.70" y2="123.20" stroke="#A61A44" stroke-width="1.4"/>
<text x="368.80" y="122.80" font-size="7.8" fill="#3a3a3a" font-style="italic" >vs</text>
<line x1="383.10" y1="120.50" x2="393.70" y2="120.50" stroke="#E49C30" stroke-width="1.4"/>
<line x1="388.40" y1="117.80" x2="388.40" y2="123.20" stroke="#E49C30" stroke-width="1.4"/>
<text x="441.30" y="123.50" font-size="8.2" fill="#2b2b2b" stroke="#2b2b2b" stroke-width="0.12" text-anchor="middle" textLength="59.50" lengthAdjust="spacingAndGlyphs" >0.15 (0.05–0.45)</text>
<text x="502.00" y="123.50" font-size="8.2" fill="#2b2b2b" stroke="#2b2b2b" stroke-width="0.12" text-anchor="middle" >&lt;.001</text>
<line x1="352.10" y1="138.50" x2="363.30" y2="138.50" stroke="#55A8D8" stroke-width="1.4"/>
<line x1="357.70" y1="135.80" x2="357.70" y2="141.20" stroke="#55A8D8" stroke-width="1.4"/>
<text x="368.80" y="140.90" font-size="7.8" fill="#3a3a3a" font-style="italic" >vs</text>
<line x1="383.10" y1="138.50" x2="393.70" y2="138.50" stroke="#E49C30" stroke-width="1.4"/>
<line x1="388.40" y1="135.80" x2="388.40" y2="141.20" stroke="#E49C30" stroke-width="1.4"/>
<text x="441.30" y="141.60" font-size="8.2" fill="#2b2b2b" stroke="#2b2b2b" stroke-width="0.12" text-anchor="middle" textLength="59.50" lengthAdjust="spacingAndGlyphs" >0.47 (0.22–1.00)</text>
<text x="502.00" y="141.60" font-size="8.2" fill="#2b2b2b" stroke="#2b2b2b" stroke-width="0.12" text-anchor="middle" >.05</text>
<line x1="349.30" y1="391.50" x2="513.60" y2="391.50" stroke="#5e5e5e" stroke-width="1.0"/>
<line x1="349.30" y1="409.50" x2="513.60" y2="409.50" stroke="#5e5e5e" stroke-width="1.0"/>
<line x1="349.30" y1="427.50" x2="513.60" y2="427.50" stroke="#5e5e5e" stroke-width="1.0"/>
<line x1="402.50" y1="378.40" x2="402.50" y2="445.30" stroke="#5e5e5e" stroke-width="1.0"/>
<line x1="482.50" y1="378.40" x2="482.50" y2="445.30" stroke="#5e5e5e" stroke-width="1.0"/>
<text x="441.40" y="386.60" font-size="8.6" fill="#2b2b2b" stroke="#2b2b2b" stroke-width="0.12" text-anchor="middle" >HR</text>
<text x="502.40" y="386.60" font-size="8.8" fill="#2b2b2b" stroke="#2b2b2b" stroke-width="0.12" text-anchor="middle" font-style="italic" >P</text>
<line x1="352.10" y1="401.50" x2="363.30" y2="401.50" stroke="#A61A44" stroke-width="1.4"/>
<line x1="357.70" y1="398.80" x2="357.70" y2="404.20" stroke="#A61A44" stroke-width="1.4"/>
<text x="368.80" y="403.90" font-size="7.8" fill="#3a3a3a" font-style="italic" >vs</text>
<line x1="383.10" y1="401.50" x2="393.70" y2="401.50" stroke="#55A8D8" stroke-width="1.4"/>
<line x1="388.40" y1="398.80" x2="388.40" y2="404.20" stroke="#55A8D8" stroke-width="1.4"/>
<text x="441.30" y="404.60" font-size="8.2" fill="#2b2b2b" stroke="#2b2b2b" stroke-width="0.12" text-anchor="middle" textLength="59.50" lengthAdjust="spacingAndGlyphs" >1.22 (0.17–8.33)</text>
<text x="502.00" y="404.60" font-size="8.2" fill="#2b2b2b" stroke="#2b2b2b" stroke-width="0.12" text-anchor="middle" >.85</text>
<line x1="352.10" y1="419.50" x2="363.30" y2="419.50" stroke="#A61A44" stroke-width="1.4"/>
<line x1="357.70" y1="416.80" x2="357.70" y2="422.20" stroke="#A61A44" stroke-width="1.4"/>
<text x="368.80" y="422.00" font-size="7.8" fill="#3a3a3a" font-style="italic" >vs</text>
<line x1="383.10" y1="419.50" x2="393.70" y2="419.50" stroke="#E49C30" stroke-width="1.4"/>
<line x1="388.40" y1="416.80" x2="388.40" y2="422.20" stroke="#E49C30" stroke-width="1.4"/>
<text x="441.30" y="422.70" font-size="8.2" fill="#2b2b2b" stroke="#2b2b2b" stroke-width="0.12" text-anchor="middle" textLength="59.50" lengthAdjust="spacingAndGlyphs" >0.21 (0.04–0.97)</text>
<text x="502.00" y="422.70" font-size="8.2" fill="#2b2b2b" stroke="#2b2b2b" stroke-width="0.12" text-anchor="middle" >.03</text>
<line x1="352.10" y1="438.50" x2="363.30" y2="438.50" stroke="#55A8D8" stroke-width="1.4"/>
<line x1="357.70" y1="435.80" x2="357.70" y2="441.20" stroke="#55A8D8" stroke-width="1.4"/>
<text x="368.80" y="440.10" font-size="7.8" fill="#3a3a3a" font-style="italic" >vs</text>
<line x1="383.10" y1="438.50" x2="393.70" y2="438.50" stroke="#E49C30" stroke-width="1.4"/>
<line x1="388.40" y1="435.80" x2="388.40" y2="441.20" stroke="#E49C30" stroke-width="1.4"/>
<text x="441.30" y="440.80" font-size="8.2" fill="#2b2b2b" stroke="#2b2b2b" stroke-width="0.12" text-anchor="middle" textLength="59.50" lengthAdjust="spacingAndGlyphs" >0.21 (0.04–0.99)</text>
<text x="502.00" y="440.80" font-size="8.2" fill="#2b2b2b" stroke="#2b2b2b" stroke-width="0.12" text-anchor="middle" >.03</text>
<rect x="0.5" y="0.5" width="519" height="591" fill="none" stroke="#4a4a4a" stroke-width="1"/>
</svg></body></html>
